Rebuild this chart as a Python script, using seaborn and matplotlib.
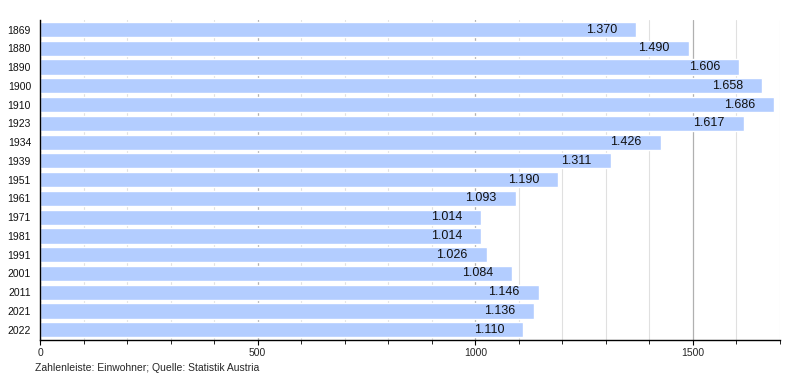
import seaborn as sns
import matplotlib.pyplot as plt
import pandas as pd
from matplotlib.ticker import MultipleLocator

# Data
years = ["1869", "1880", "1890", "1900", "1910", "1923", "1934", "1939", "1951",
         "1961", "1971", "1981", "1991", "2001", "2011", "2021", "2022"]
population = [1370, 1490, 1606, 1658, 1686, 1617, 1426, 1311, 1190,
              1093, 1014, 1014, 1026, 1084, 1146, 1136, 1110]

df = pd.DataFrame({"year": years, "population": population})

sns.set_style("white")
plt.rcParams["font.family"] = ["Liberation Sans", "DejaVu Sans"]

fig = plt.figure(figsize=(8, 3.8), dpi=100)
ax = fig.add_axes([0.05, 0.105, 0.925, 0.842])

sns.barplot(data=df, x="population", y="year", orient="h", color="#b3cdff",
            saturation=1, width=0.81, ax=ax, zorder=2)

ax.set_xlim(0, 1700)
ax.set_ylim(len(years) - 0.45, -0.5)
ax.xaxis.set_major_locator(MultipleLocator(500))
ax.xaxis.set_minor_locator(MultipleLocator(100))
ax.grid(axis="x", which="minor", color="#e0e0e0", linewidth=0.8, zorder=0)
ax.grid(axis="x", which="major", color="#b0b0b0", linewidth=0.9, zorder=0)
ax.set_axisbelow(True)

for s in ["top", "right"]:
    ax.spines[s].set_visible(False)
for s in ["left", "bottom"]:
    ax.spines[s].set_color("black")
    ax.spines[s].set_linewidth(1)

ax.tick_params(axis="x", which="both", bottom=True, direction="out", color="black",
               labelsize=7.5, pad=2)
ax.tick_params(axis="x", which="major", length=3.6)
ax.tick_params(axis="x", which="minor", length=2.9)
ax.tick_params(axis="y", left=False, length=0, labelsize=7.5, pad=6.5,
               labelcolor="#111111")
ax.set_xlabel("")
ax.set_ylabel("")

for i, v in enumerate(population):
    label = f"{v:,}".replace(",", ".")
    ax.annotate(label, xy=(v, i), xytext=(-19, 0), textcoords="offset pixels",
                ha="right", va="center", fontsize=9, color="#111111")

fig.text(0.044, 0.018, "Zahlenleiste: Einwohner; Quelle: Statistik Austria",
         fontsize=7.5, ha="left", va="bottom")

fig.savefig("out.png", dpi=100)
